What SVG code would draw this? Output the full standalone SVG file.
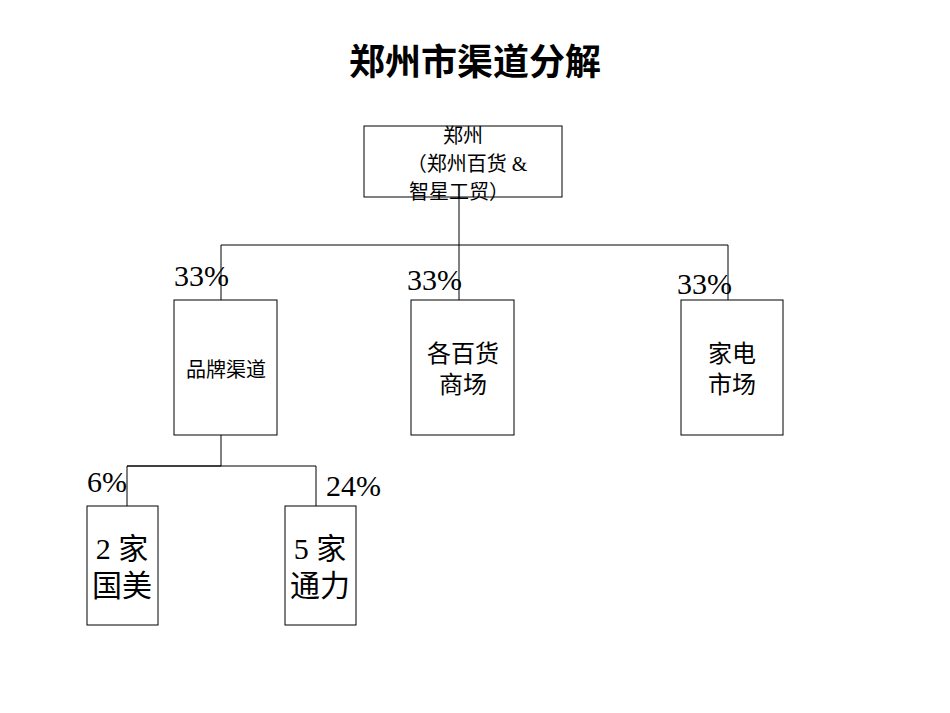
<svg xmlns="http://www.w3.org/2000/svg" width="950" height="713" viewBox="0 0 950 713">
<style>
.b{fill:#fff;stroke:#000;stroke-width:1}
.t{font-family:"Liberation Serif","Noto Sans CJK SC",serif;fill:#000}
.c{stroke:#000;stroke-width:1;fill:none}
</style>
<rect width="950" height="713" fill="#fff"/>
<text x="475" y="75" text-anchor="middle" font-family="'Liberation Sans','Noto Sans CJK SC',sans-serif" font-weight="bold" font-size="36">郑州市渠道分解</text>
<g id="connectors">
<path class="c" d="M459 197V245M221 245H728M221 245V300M459 245V300M728 245V300M221 435V466H127V506M127 466H316V506"/>
</g>
<g id="root"><rect class="b" x="364" y="126" width="198" height="71"/>
<text class="t" font-size="20" text-anchor="middle"><tspan x="463" y="143">郑州</tspan><tspan x="467" y="171">（郑州百货 &amp;</tspan><tspan x="459" y="199">智星工贸）</tspan></text></g>
<g id="n1"><rect class="b" x="174" y="300" width="103" height="135"/><text class="t" x="226" y="377" font-size="20" text-anchor="middle">品牌渠道</text></g>
<g id="n2"><rect class="b" x="411" y="300" width="103" height="135"/><text class="t" font-size="24" text-anchor="middle"><tspan x="463" y="362">各百货</tspan><tspan x="463" y="393">商场</tspan></text></g>
<g id="n3"><rect class="b" x="681" y="300" width="102" height="135"/><text class="t" font-size="24" text-anchor="middle"><tspan x="732" y="362">家电</tspan><tspan x="732" y="393">市场</tspan></text></g>
<g id="n4"><rect class="b" x="87" y="506" width="71" height="119"/><text class="t" font-size="30" text-anchor="middle"><tspan x="122" y="559">2 家</tspan><tspan x="122" y="596">国美</tspan></text></g>
<g id="n5"><rect class="b" x="285" y="506" width="71" height="119"/><text class="t" font-size="30" text-anchor="middle"><tspan x="320" y="559">5 家</tspan><tspan x="320" y="596">通力</tspan></text></g>
<g class="t" font-size="30">
<text x="174" y="286">33%</text><text x="407" y="290">33%</text><text x="677" y="294">33%</text>
<text x="87" y="492">6%</text><text x="326" y="496">24%</text>
</g>
</svg>
